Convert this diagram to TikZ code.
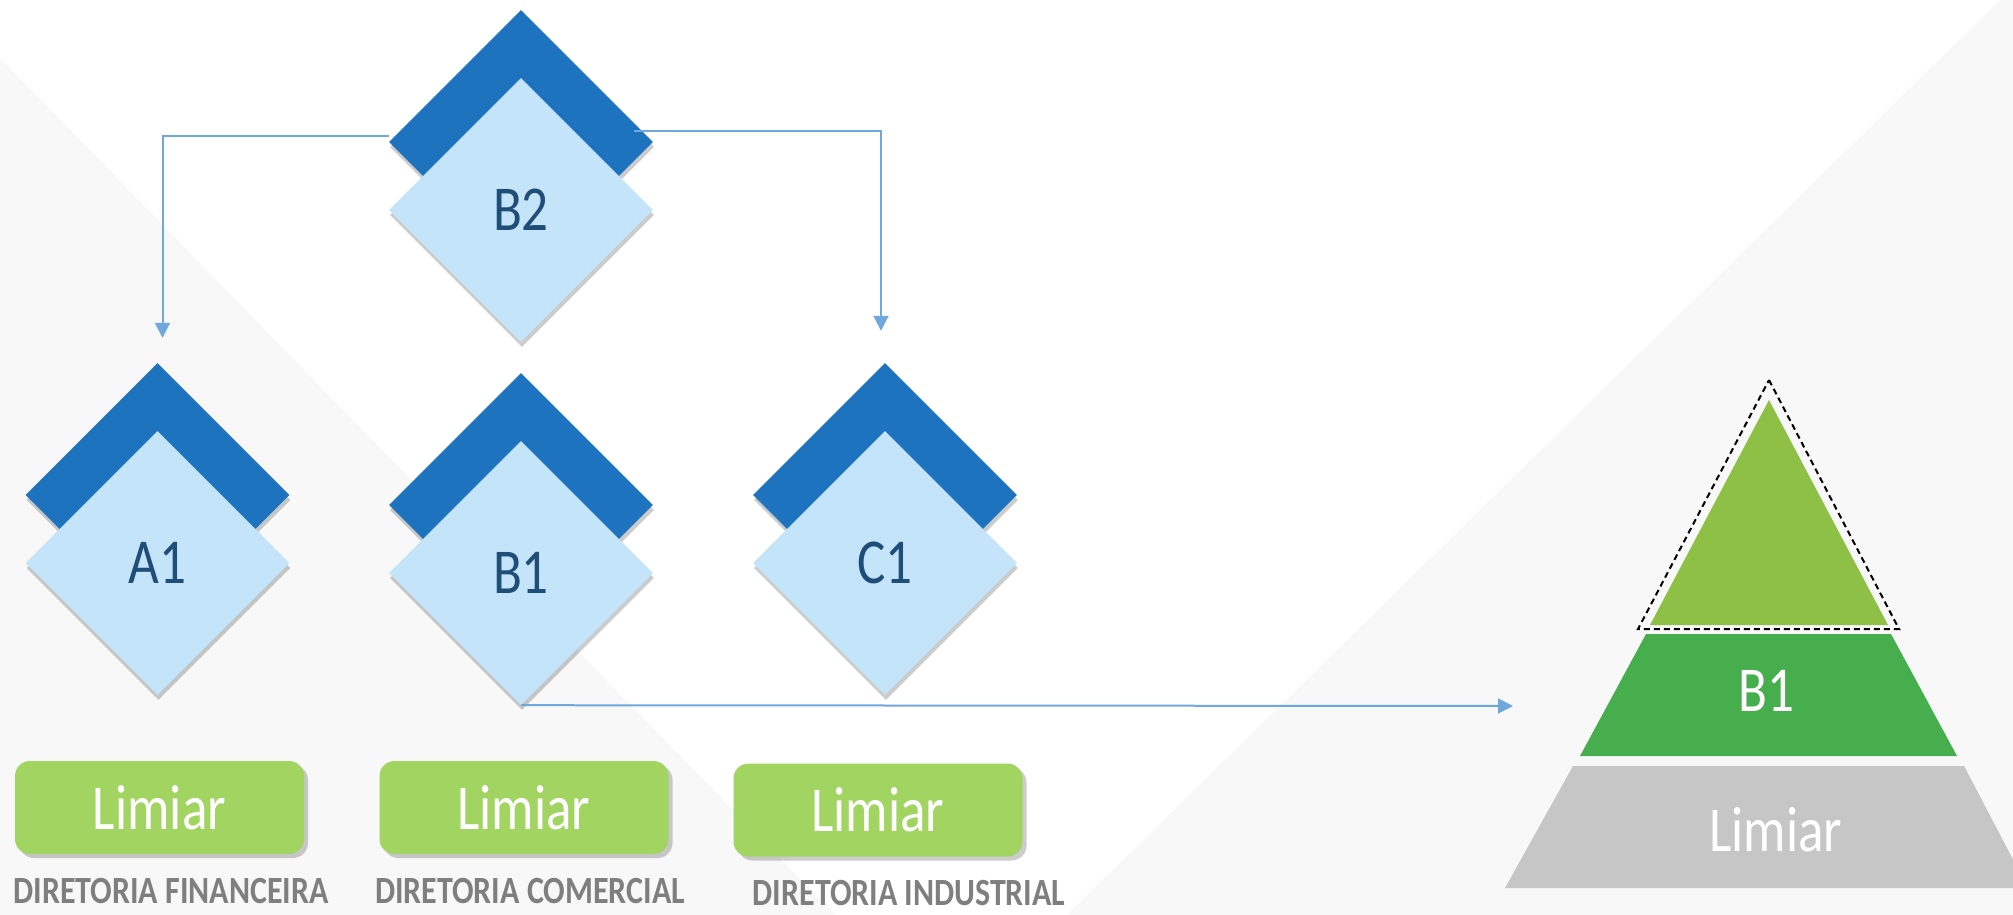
\documentclass[tikz,border=0pt]{standalone}
\usepackage{fontspec}
\usepackage{graphicx}
\setmainfont{Carlito}
\usetikzlibrary{shapes.geometric,arrows.meta,shadows}

\definecolor{bggray}{HTML}{F8F8F8}
\definecolor{darkblue}{HTML}{1E73BE}
\definecolor{paleblue}{HTML}{C4E5F9}
\definecolor{navy}{HTML}{1F4E79}
\definecolor{linkblue}{HTML}{6FA8DC}
\definecolor{limegreen}{HTML}{A2D462}
\definecolor{topgreen}{HTML}{8DC045}
\definecolor{midgreen}{HTML}{47AE4E}
\definecolor{basegray}{HTML}{C6C6C6}
\definecolor{labelgray}{HTML}{7F7F7F}

\newcommand{\narrowtext}[1]{\scalebox{0.83}[1]{#1}}

\begin{document}
\begin{tikzpicture}[x=1pt,y=-1pt,
    soft/.style={drop shadow={shadow xshift=1pt,shadow yshift=-5pt,fill=black,opacity=0.2}},
    boxsoft/.style={drop shadow={shadow xshift=4pt,shadow yshift=-4pt,fill=black,opacity=0.2}},
    back/.style={diamond,aspect=1,minimum size=264pt,inner sep=0pt,fill=darkblue,soft},
    front/.style={diamond,aspect=1,minimum size=264pt,inner sep=0pt,fill=paleblue,soft,
        text=navy,font=\fontsize{64}{70}\selectfont},
    limiar/.style={rectangle,rounded corners=15pt,minimum width=289pt,minimum height=93pt,
        fill=limegreen,boxsoft,text=white,font=\fontsize{64}{70}\selectfont},
    dir/.style={anchor=base,inner sep=0pt,text=labelgray,font=\bfseries\fontsize{38.5}{42}\selectfont},
    band/.style={text=white,font=\fontsize{64}{70}\selectfont},
    link/.style={linkblue,line width=2pt,-{Triangle[length=15pt,width=15pt]}}]
    \useasboundingbox (0,0) rectangle (2013,915);
    \fill[white] (0,0) rectangle (2013,915);
    \fill[bggray] (0,58) -- (835,915) -- (0,915) -- cycle;
    \fill[bggray] (2000,0) -- (2013,0) -- (2013,915) -- (1067,915) -- cycle;

    \node[back] (b2back) at (521,142) {};
    \node[back] (a1back) at (157.5,495) {};
    \node[back] (b1back) at (521,505) {};
    \node[back] (c1back) at (885,495) {};

    \draw[link] ([yshift=6pt]b2back.west) -| ([xshift=5pt,yshift=25pt]a1back.north);
    \draw[link] ([xshift=-19pt,yshift=11pt]b2back.east) -| ([xshift=-4pt,yshift=32pt]c1back.north);

    \node[front] (b2) at (521,210) {\narrowtext{B2}};
    \node[front] (a1) at (157.5,563) {\narrowtext{A1}};
    \node[front] (b1) at (521,573) {\narrowtext{B1}};
    \node[front] (c1) at (885,563) {\narrowtext{C1}};

    \coordinate (pyrin) at (1513,706);
    \draw[link] (b1.south) -- (pyrin);

    \node[limiar] (lim1) at (159.5,807.5) {\narrowtext{Limiar}};
    \node[limiar] (lim2) at (524,807.5) {\narrowtext{Limiar}};
    \node[limiar] (lim3) at (878,810) {\narrowtext{Limiar}};

    \node[dir] (dir1) at (171,903) {\narrowtext{DIRETORIA FINANCEIRA}};
    \node[dir] (dir2) at (530,903) {\narrowtext{DIRETORIA COMERCIAL}};
    \node[dir] (dir3) at (909,905) {\narrowtext{DIRETORIA INDUSTRIAL}};

    \fill[topgreen] (1769,400) -- (1888,625) -- (1650,625) -- cycle;
    \fill[midgreen] (1646,634) -- (1891,634) -- (1957,756) -- (1580,756) -- cycle;
    \fill[basegray] (1573,766) -- (1964,766) -- (2028,888) -- (1505,888) -- cycle;
    \draw[black,line width=2pt,dash pattern=on 6pt off 4pt] (1769,380) -- (1899,629) -- (1638,629) -- cycle;

    \node[band] (pyrb1) at (1766,691) {\narrowtext{B1}};
    \node[band] (pyrlim) at (1776,830) {\narrowtext{Limiar}};
\end{tikzpicture}
\end{document}
